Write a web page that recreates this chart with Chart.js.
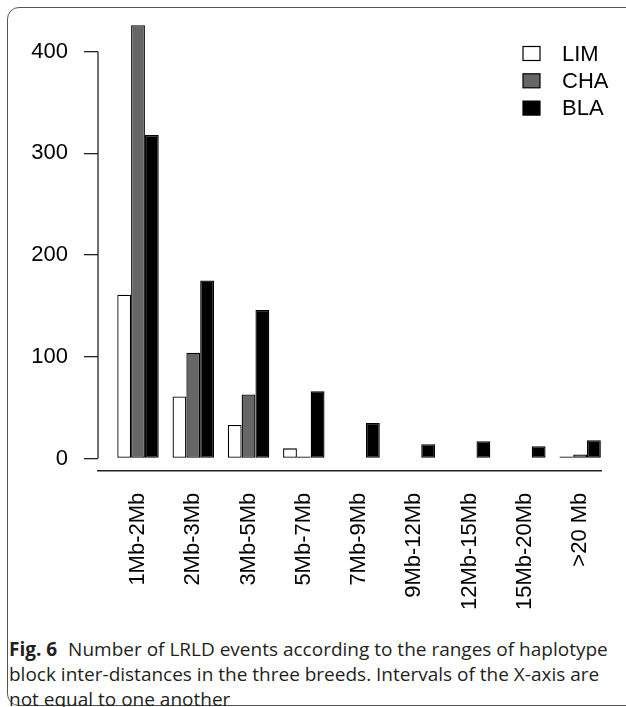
<!DOCTYPE html>
<html>
<head>
<meta charset="utf-8">
<script src="https://cdn.jsdelivr.net/npm/chart.js@4.4.1/dist/chart.umd.min.js"></script>
<style>
html,body{margin:0;padding:0;background:#fff;}
body{width:626px;height:707px;position:relative;overflow:hidden;}
#cadre{position:absolute;left:7px;top:7px;width:700px;height:699px;border:1px solid #555;border-radius:12px;box-sizing:border-box;}
#zone{position:absolute;left:0;top:0;width:626px;height:630px;}
#legende{position:absolute;left:9px;top:637px;font-family:"Open Sans";font-size:19px;line-height:25px;color:#231f20;white-space:nowrap;}
#legende b{font-weight:bold;margin-right:6px;}
</style>
</head>
<body>
<div id="cadre"></div>
<div id="zone"><canvas id="chart"></canvas></div>
<div id="legende"><b>Fig. 6</b> Number of LRLD events according to the ranges of haplotype<br>block inter-distances in the three breeds. Intervals of the X-axis are<br>not equal to one another</div>
<script>
// Intervalles de distance (axe X)
var intervalles = ['1Mb-2Mb','2Mb-3Mb','3Mb-5Mb','5Mb-7Mb','7Mb-9Mb','9Mb-12Mb','12Mb-15Mb','15Mb-20Mb','>20 Mb'];
// Les trois races
var races = ['LIM','CHA','BLA'];
// Nombre d'evenements LRLD par race (null = pas de barre dans la figure)
var valLIM = [161, 61, 33, 10, null, null, null, null, 1];
var valCHA = [426, 104, 63, 1, null, null, null, null, 4];
var valBLA = [318, 175, 146, 66, 35, 14, 17, 12, 18];
// Graduations de l'axe Y
var graduationsY = [0, 100, 200, 300, 400];
var couleurs = ['#ffffff', '#666666', '#000000'];

var police = '"Liberation Sans", Arial, sans-serif';

function serie(vals){
    var d = [];
    for (var i = 0; i < vals.length; i++) d.push({x: i, y: vals[i]});
    return d;
}

// axe Y (de 0 a 400 seulement, comme R) + la legende en haut a droite
var extras = {
    id: 'extras',
    afterDraw: function(chart){
        var ctx = chart.ctx, sy = chart.scales.y, ca = chart.chartArea;
        ctx.save();
        ctx.strokeStyle = '#222';
        ctx.lineWidth = 1.3;
        ctx.beginPath();
        ctx.moveTo(ca.left, sy.getPixelForValue(graduationsY[0]));
        ctx.lineTo(ca.left, sy.getPixelForValue(graduationsY[graduationsY.length-1]));
        ctx.stroke();
        ctx.font = '22px ' + police;
        ctx.textBaseline = 'middle';
        chart.data.datasets.forEach(function(ds, i){
            var yc = 53.5 + 27.3*i;
            ctx.fillStyle = ds.backgroundColor;
            ctx.fillRect(ca.right - 78, yc - 7, 17, 14);
            ctx.strokeStyle = '#000';
            ctx.lineWidth = 1.2;
            ctx.strokeRect(ca.right - 78, yc - 7, 17, 14);
            ctx.fillStyle = '#000';
            ctx.fillText(ds.label, ca.right - 39, yc + 1);
        });
        ctx.restore();
    }
};

var datasets = [];
var toutes = [valLIM, valCHA, valBLA];
for (var k = 0; k < races.length; k++) {
    datasets.push({
        label: races[k],
        data: serie(toutes[k]),
        backgroundColor: couleurs[k],
        borderColor: '#000',
        borderWidth: 1.3,
        borderSkipped: false,
        minBarLength: 2, // les barres de 1 restent visibles comme un trait
        categoryPercentage: 0.75,
        barPercentage: 1.0
    });
}

new Chart(document.getElementById('chart'), {
    type: 'bar',
    data: {datasets: datasets},
    plugins: [extras],
    options: {
        responsive: true,
        maintainAspectRatio: false,
        animation: false,
        layout: {padding: {left: 0, right: 25, top: 11, bottom: 0}},
        plugins: {legend: {display: false}, tooltip: {enabled: false}},
        scales: {
            x: {
                type: 'linear',
                offset: false,
                min: -0.724,
                max: 8.378,
                bounds: 'data',
                afterBuildTicks: function(s){ s.ticks = intervalles.map(function(l, i){ return {value: i}; }); },
                afterFit: function(s){ s.height = 159.3; s.paddingLeft = 0; s.paddingRight = 0; },
                grid: {display: false, drawTicks: false},
                border: {display: true, color: '#222', width: 1.6},
                ticks: {
                    autoSkip: false,
                    minRotation: 90,
                    maxRotation: 90,
                    padding: 22,
                    color: '#000',
                    font: {family: police, size: 22},
                    callback: function(v){ return intervalles[v]; }
                }
            },
            y: {
                min: -12,
                max: 440,
                bounds: 'data',
                afterBuildTicks: function(s){ s.ticks = graduationsY.map(function(v){ return {value: v}; }); },
                afterFit: function(s){ s.width = 98; s.paddingTop = 0; s.paddingBottom = 0; },
                border: {display: false},
                grid: {drawOnChartArea: false, drawTicks: true, tickLength: 14, color: '#222', lineWidth: 1.3},
                ticks: {padding: 16, color: '#000', font: {family: police, size: 22}}
            }
        }
    }
});
</script>
</body>
</html>
